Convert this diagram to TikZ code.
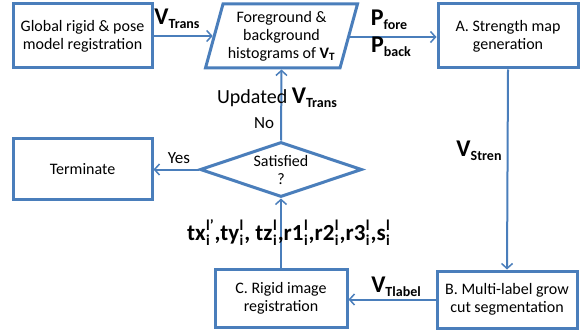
\documentclass[tikz,border=0pt]{standalone}
\usepackage{fontspec}
\setmainfont{Carlito}
\usetikzlibrary{shapes.geometric,arrows.meta}
\definecolor{lineblue}{RGB}{74,126,187}
\newcommand\bigv[2]{{\bfseries\fontsize{24}{26}\selectfont #1\raisebox{-4.5pt}{\fontsize{14}{15}\selectfont #2}}}
\newcommand\prm[2]{#1\kern0.5pt\rlap{\raisebox{-5pt}{\fontsize{15}{15}\selectfont i}}\raisebox{10pt}{\fontsize{15}{15}\selectfont #2}\kern1pt}
\tikzset{
  box/.style={draw=lineblue, line width=3pt, rectangle, align=center, font=\fontsize{16}{18}\selectfont, inner sep=2pt},
  conn/.style={draw=lineblue, line width=2pt, -{Straight Barb[length=5pt,width=11pt,line width=1.5pt]}},
  lbl/.style={inner sep=0pt, align=center}
}
\begin{document}
\begin{tikzpicture}[x=1pt,y=-1pt]
\useasboundingbox (0,0) rectangle (585,331);
\node[box, minimum width=139, minimum height=64] (g) at (82.5,36) {Global rigid \& pose\\model registration};
\node[box, trapezium, trapezium left angle=72, trapezium right angle=108, minimum width=152, minimum height=64, trapezium stretches body, inner xsep=0pt] (par) at (281.5,36) {Foreground \&\\background\\histograms of \textbf{V\textsubscript{T}}};
\node[box, minimum width=140, minimum height=64] (A) at (508,36) {A. Strength map\\generation};
\node[box, minimum width=139, minimum height=60] (term) at (82.5,169) {Terminate};
\node[box, diamond, aspect=3, minimum width=162, minimum height=55, inner sep=0pt] (dia) at (281,169.5) {Satisfied\\?};
\node[box, minimum width=132, minimum height=58] (C) at (281,298) {C. Rigid image\\registration};
\node[box, minimum width=140, minimum height=57] (B) at (507,299.5) {B. Multi-label grow\\cut segmentation};

\draw[conn] (g.east) -- (g.east -| par.west);
\draw[conn] ([yshift=-1pt]par.east) -- ([yshift=-1pt]par.east -| A.west);
\draw[conn] (A.south) -- (B.north);
\draw[conn] (B.west) -- (B.west -| C.east);
\draw[conn] (C.north) -- (dia.south);
\draw[conn] (dia.north) -- (par.south);
\draw[conn] (dia.west) -- (dia.west -| term.east);

\node[lbl] (vt) at (177,19) {\bigv{V}{Trans}};
\node[lbl] (pf) at (389,20) {\bigv{P}{fore}};
\node[lbl] (pb) at (391,47) {\bigv{P}{back}};
\node[lbl] (upd) at (277,98) {\fontsize{20}{22}\selectfont Updated \bigv{V}{Trans}};
\node[lbl] (no) at (264,123) {\fontsize{17}{19}\selectfont No};
\node[lbl] (yes) at (179,158) {\fontsize{17}{19}\selectfont Yes};
\node[lbl] (vs) at (479,151) {\bigv{V}{Stren}};
\node[lbl] (vl) at (396,287) {\bigv{V}{Tlabel}};
\node[lbl] (prm) at (289,233) {\bfseries\fontsize{23}{25}\selectfont \prm{tx}{l'},\prm{ty}{l}, \prm{tz}{l},\prm{r1}{l},\prm{r2}{l},\prm{r3}{l},\prm{s}{l}};
\end{tikzpicture}
\end{document}
